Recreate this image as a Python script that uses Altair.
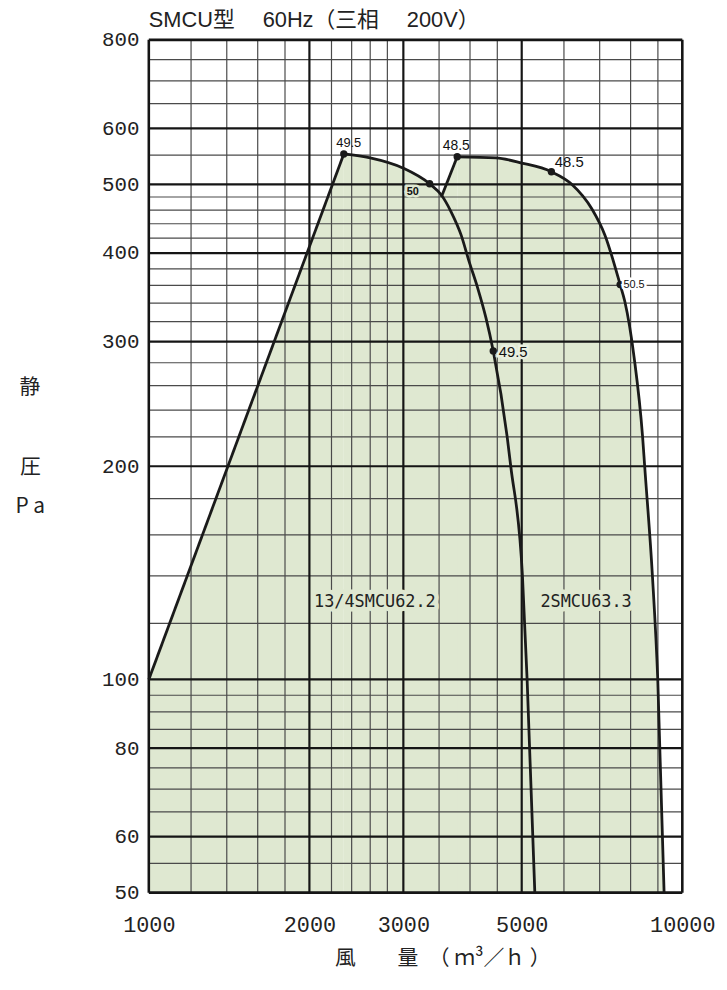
import altair as alt
import pandas as pd

# ---------------- data ----------------
# 13/4SMCU62.2 : straight rising part and the curved falling part
c1_line_x = [1000, 2320]
c1_line_y = [100, 552]
c1_curve_x = [2320, 2600, 3000, 3360, 3535, 3688, 3850, 3985, 4135, 4285, 4422, 4696, 4769, 5016, 5118, 5291]
c1_curve_y = [552, 545, 527, 501, 483, 457, 424, 389, 357, 324, 291, 220, 200, 140, 100, 50]

# 2SMCU63.3 : straight rising part and the curved falling part
c2_line_x = [3535, 3785]
c2_line_y = [480, 547]
c2_curve_x = [3785, 4475, 5000, 5683, 6211, 6766, 7161, 7646, 7801, 8122, 8425, 8501, 8790, 8995, 9244]
c2_curve_y = [547, 545, 536, 521, 500, 462, 424, 361, 342, 285, 220, 200, 140, 100, 50]

# marked operating points and their labels
dot_x = [2320, 3360, 4422, 3785, 5683, 7646]
dot_y = [552, 501, 291, 547, 521, 361]
dot_text = ["49.5", "50", "49.5", "48.5", "48.5", "50.5"]

# model names
model_names = ["13/4SMCU62.2", "2SMCU63.3"]
model_x = [2653, 6601]
model_y = [128.5, 128.5]

# grid
grid_x_minor = [1200, 1400, 1600, 1800, 2200, 2400, 2600, 2800, 3500, 4000, 4500, 6000, 7000, 8000, 9000]
grid_x_major = [2000, 3000, 5000]
grid_x_edge = [1000, 10000]
grid_y_minor = [55, 65, 70, 75, 85, 90, 95, 120, 140, 160, 180, 220, 240, 260, 280,
                320, 340, 360, 380, 420, 440, 460, 480, 550, 650, 700, 750]
grid_y_major = [60, 80, 100, 200, 300, 400, 500, 600]
grid_y_edge = [50, 800]

x_ticks = [1000, 2000, 3000, 5000, 10000]
y_ticks = [50, 60, 80, 100, 200, 300, 400, 500, 600, 800]

title_text = "SMCU型　 60Hz（三相　 200V）"
x_title = "風　　量　（ ｍ³／ｈ ）"
y_title_top = "静"
y_title_rest = ["圧", "P a"]

# ---------------- styles (kept apart from the data) ----------------
FILL = "#dfe8d1"
INK = "#1a1a1a"
MONO = "Liberation Mono"
CJK = "Noto Sans CJK JP"
# dx, dy, font size, weight, halo colour
dot_label_style = [
    (5, -11, 13, "normal", None),
    (-17, 8, 11, "bold", FILL),
    (20, 1, 15, "normal", "#e9efe0"),
    (-1, -11, 14, "normal", None),
    (18, -10, 15, "normal", None),
    (14, 0, 11, "normal", "white"),
]

xscale = alt.Scale(type="log", domain=[1000, 10000], nice=False)
yscale = alt.Scale(type="log", domain=[50, 800], nice=False)

xaxis = alt.Axis(values=x_ticks, format="d", grid=False, ticks=False, domain=False,
                 labelFont=MONO, labelFontSize=22, labelColor="#222",
                 labelPadding=22, labelFlush=False, labelOverlap=False, labelBound=False,
                 title=x_title, titleFont=CJK, titleFontSize=21,
                 titleFontWeight="normal", titleColor="#222",
                 titleX=296, titleY=66, titleAlign="center", titleBaseline="middle")
yaxis = alt.Axis(values=y_ticks, format="d", grid=False, ticks=False, domain=False,
                 labelFont=MONO, labelFontSize=21, labelColor="#222",
                 labelPadding=10, labelFlush=False, labelOverlap=False, labelBound=False,
                 labelBaseline="middle",
                 title=y_title_rest, titleFont=CJK, titleFontSize=21,
                 titleFontWeight="normal", titleColor="#222", titleAngle=0,
                 titleAlign="center", titleBaseline="top", titleLineHeight=40,
                 titleX=-120, titleY=420)


def X(f="x"):
    return alt.X(f, type="quantitative", scale=xscale, axis=xaxis)


def Y(f="y"):
    return alt.Y(f, type="quantitative", scale=yscale, axis=yaxis)


def df_xy(xs, ys):
    return pd.DataFrame({"x": xs, "y": ys})


layers = []

# fills
for xs, ys, interp in [(c1_line_x, c1_line_y, "linear"), (c1_curve_x, c1_curve_y, "monotone"),
                       (c2_line_x, c2_line_y, "linear"), (c2_curve_x, c2_curve_y, "monotone")]:
    layers.append(alt.Chart(df_xy(xs, ys)).mark_area(interpolate=interp, color=FILL, opacity=1)
                  .encode(x=X(), y=Y(), y2=alt.datum(50)))

# grid
layers.append(alt.Chart(pd.DataFrame({"x": grid_x_minor})).mark_rule(color="#4a4a4a", strokeWidth=1.2)
              .encode(x=X()))
layers.append(alt.Chart(pd.DataFrame({"y": grid_y_minor})).mark_rule(color="#4a4a4a", strokeWidth=1.2)
              .encode(y=Y()))
layers.append(alt.Chart(pd.DataFrame({"x": grid_x_major})).mark_rule(color="#151515", strokeWidth=2.2)
              .encode(x=X()))
layers.append(alt.Chart(pd.DataFrame({"y": grid_y_major})).mark_rule(color="#151515", strokeWidth=2.2)
              .encode(y=Y()))
layers.append(alt.Chart(pd.DataFrame({"x": grid_x_edge})).mark_rule(color="#151515", strokeWidth=2.6)
              .encode(x=X()))
layers.append(alt.Chart(pd.DataFrame({"y": grid_y_edge})).mark_rule(color="#151515", strokeWidth=2.6)
              .encode(y=Y()))

# model names with a fill-coloured halo that hides the grid behind them
mdf = pd.DataFrame({"x": model_x, "y": model_y, "t": model_names})
layers.append(alt.Chart(mdf).mark_text(font="DejaVu Sans Mono", fontSize=17, color=FILL,
                                       stroke=FILL, strokeWidth=9, strokeJoin="round")
              .encode(x=X(), y=Y(), text="t:N"))
layers.append(alt.Chart(mdf).mark_text(font="DejaVu Sans Mono", fontSize=17, color="#222")
              .encode(x=X(), y=Y(), text="t:N"))

# curves
for xs, ys, interp in [(c1_line_x, c1_line_y, "linear"), (c1_curve_x, c1_curve_y, "monotone"),
                       (c2_line_x, c2_line_y, "linear"), (c2_curve_x, c2_curve_y, "monotone")]:
    layers.append(alt.Chart(df_xy(xs, ys)).mark_line(interpolate=interp, color=INK, strokeWidth=2.8)
                  .encode(x=X(), y=Y()))

# operating points
layers.append(alt.Chart(df_xy(dot_x, dot_y)).mark_circle(size=55, color=INK, opacity=1)
              .encode(x=X(), y=Y()))

# point labels
for i, t in enumerate(dot_text):
    dx, dy, fs, fw, halo = dot_label_style[i]
    d = pd.DataFrame({"x": [dot_x[i]], "y": [dot_y[i]], "t": [t]})
    if halo:
        layers.append(alt.Chart(d).mark_text(font="Liberation Sans", fontSize=fs, fontWeight=fw,
                                             dx=dx, dy=dy, color=halo, stroke=halo, strokeWidth=5)
                      .encode(x=X(), y=Y(), text="t:N"))
    layers.append(alt.Chart(d).mark_text(font="Liberation Sans", fontSize=fs, fontWeight=fw,
                                         dx=dx, dy=dy, color="#111")
                  .encode(x=X(), y=Y(), text="t:N"))

# chart title, anchored to the top-left corner of the plot through the scales
layers.append(alt.Chart(pd.DataFrame({"t": [title_text]})).mark_text(
    font="Liberation Sans, Noto Sans CJK JP", fontSize=22, color="#222",
    align="left", baseline="alphabetic", dy=-13)
    .encode(x=alt.X(datum=1000, type="quantitative", scale=xscale, axis=xaxis),
            y=alt.Y(datum=800, type="quantitative", scale=yscale, axis=yaxis),
            text="t:N"))

# first character of the vertical-axis title, set well above the other two lines
layers.append(alt.Chart(pd.DataFrame({"t": [y_title_top]})).mark_text(
    font=CJK, fontSize=21, color="#222", align="center", baseline="middle", dx=-120)
    .encode(x=alt.X(datum=1000, type="quantitative", scale=xscale, axis=xaxis),
            y=alt.Y(datum=258, type="quantitative", scale=yscale, axis=yaxis),
            text="t:N"))

chart = alt.layer(*layers).properties(
    width=538,
    height=860,
    autosize=alt.AutoSizeParams(type="none"),
    padding={"left": 142, "top": 28, "right": 37, "bottom": 88},
).configure_view(stroke="transparent")

chart.save("out.html", embed_options={"renderer": "svg", "actions": False})
